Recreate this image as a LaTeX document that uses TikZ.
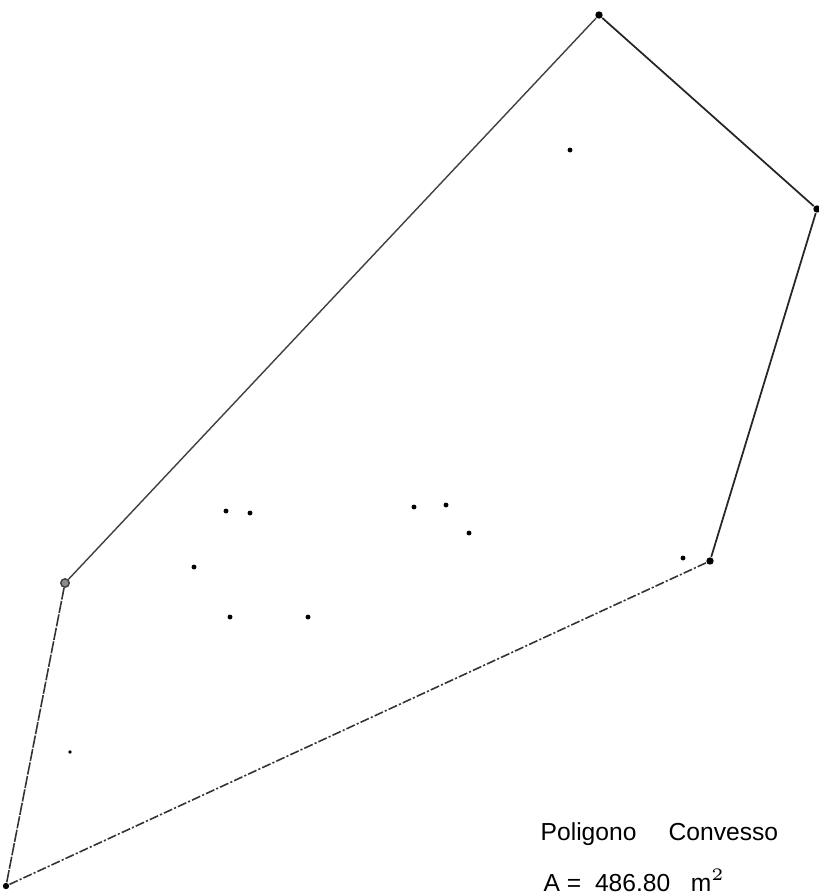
\documentclass[tikz,border=0pt]{standalone}
\usepackage{fontspec}
\setmainfont{Liberation Sans}
\usepackage{tikz}
\usetikzlibrary{positioning}

\begin{document}
\begin{tikzpicture}[
  x=0.01cm, y=-0.01cm,
  font=\fontsize{7}{8.5}\selectfont,
  edge/.style={line width=0.5pt, black!85},
  thinedge/.style={line width=0.4pt, black!75},
  scanedge/.style={line width=0.45pt, black!80, dash pattern=on 2.6pt off 0.6pt on 0.6pt off 0.6pt},
  vtx/.style={circle, fill=black, inner sep=0pt, minimum size=2.1pt},
  pt/.style={circle, fill=black, inner sep=0pt, minimum size=1.4pt},
  lbl/.style={anchor=base west, inner sep=0pt}
]
\useasboundingbox (0,0) rectangle (819,896);

% hull vertices
\node[vtx] (top) at (599,15) {};
\node[vtx] (rt) at (817,209) {};
\node[vtx] (lr) at (710,561) {};
\node[vtx, minimum size=1.8pt] (bl) at (6,886) {};
\node[vtx, minimum size=2.4pt, draw=black!75, fill=black!45, line width=0.4pt] (lf) at (65,583) {};

\draw[edge] (top) -- (rt) -- (lr);
\draw[scanedge] (lr) -- (bl);
\draw[scanedge, dash pattern=on 3.5pt off 0.4pt] (bl) -- (lf);
\draw[thinedge] (lf) -- (top);

% interior points
\node[pt] (p1) at (570,150) {};
\node[pt] (p2) at (226,511) {};
\node[pt] (p3) at (250,513) {};
\node[pt] (p4) at (194,567) {};
\node[pt] (p5) at (230,617) {};
\node[pt] (p6) at (308,617) {};
\node[pt] (p7) at (414,507) {};
\node[pt] (p8) at (446,505) {};
\node[pt] (p9) at (469,533) {};
\node[pt] (p10) at (683,558) {};
\node[pt, minimum size=1.1pt] (p11) at (70,752) {};

% caption
\node[lbl] (tpoly) at (540,840) {Poligono};
\node[lbl] (tconv) at (668,840) {Convesso};
\node[lbl] (tarea) at (543,891) {A =\ \ 486.80\ \ \ m$^2$};
\end{tikzpicture}
\end{document}
